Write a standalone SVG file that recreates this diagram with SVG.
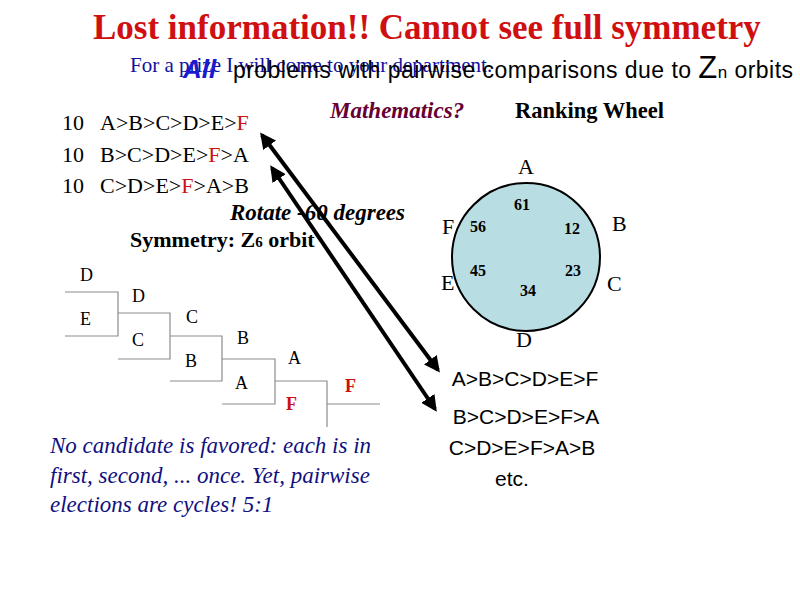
<svg xmlns="http://www.w3.org/2000/svg" width="800" height="600" viewBox="0 0 800 600">
<style>
.t{font-family:"Liberation Serif",serif;fill:#000}
.s{font-family:"Liberation Sans",sans-serif;fill:#000}
.br{stroke:#8c8c8c;stroke-width:1.2;fill:none}
.red{fill:#cc1111}
.ar{stroke:#000;stroke-width:4;fill:none}
</style>
<defs>
<marker id="ah" viewBox="0 0 10 10" refX="8" refY="5" markerWidth="4" markerHeight="4" orient="auto-start-reverse"><path d="M0,0 L10,5 L0,10 z" fill="#000"/></marker>
</defs>
<rect width="800" height="600" fill="#fff"/>
<text x="93" y="39" class="t" font-size="35" font-weight="bold" style="fill:#d01010">Lost information!! Cannot see full symmetry</text>
<text x="130" y="72" class="t" font-size="21" style="fill:#1010a0">For a prize I will come to your department.</text>
<text x="183" y="78" class="s" font-size="26" font-weight="bold" font-style="italic" style="fill:#1a1ad0">All</text>
<text x="233" y="78" class="s" font-size="23" textLength="560">problems with pairwise comparisons due to <tspan font-size="31">Z</tspan><tspan font-size="17">n</tspan> orbits</text>
<text x="330" y="118" class="t" font-size="23" font-weight="bold" font-style="italic" style="fill:#660033">Mathematics?</text>
<text x="515" y="118" class="t" font-size="22.5" font-weight="bold">Ranking Wheel</text>
<g class="t" font-size="22">
<text x="62" y="130">10</text><text x="100" y="130">A&gt;B&gt;C&gt;D&gt;E&gt;<tspan class="red">F</tspan></text>
<text x="62" y="162">10</text><text x="100" y="162">B&gt;C&gt;D&gt;E&gt;<tspan class="red">F</tspan>&gt;A</text>
<text x="62" y="193">10</text><text x="100" y="193">C&gt;D&gt;E&gt;<tspan class="red">F</tspan>&gt;A&gt;B</text>
</g>
<text x="230" y="220" class="t" font-size="23" font-weight="bold" font-style="italic">Rotate -60 degrees</text>
<text x="130" y="247" class="t" font-size="22" font-weight="bold">Symmetry: Z<tspan font-size="15">6</tspan> orbit</text>
<g id="wheel">
<circle cx="526" cy="257" r="74" fill="#b8dde2" stroke="#000" stroke-width="2"/>
<g class="t" font-size="22">
<text x="526" y="174" text-anchor="middle">A</text>
<text x="612" y="231">B</text>
<text x="607" y="291">C</text>
<text x="524" y="347" text-anchor="middle">D</text>
<text x="441" y="290">E</text>
<text x="442" y="234">F</text>
</g>
<g class="t" font-size="16" font-weight="bold">
<text x="514" y="210">61</text>
<text x="564" y="234">12</text>
<text x="565" y="276">23</text>
<text x="520" y="296">34</text>
<text x="470" y="276">45</text>
<text x="470" y="232">56</text>
</g>
</g>
<g id="bracket">
<path class="br" d="M65,292H118V336H65M118,313H170V359H118M170,336H222V381H170M222,359H275V404H222M275,381H327V427M327,404H380"/>
<g class="t" font-size="18">
<text x="80" y="281">D</text>
<text x="80" y="325">E</text>
<text x="132" y="302">D</text>
<text x="132" y="346">C</text>
<text x="186" y="323">C</text>
<text x="185" y="367">B</text>
<text x="237" y="344">B</text>
<text x="235" y="389">A</text>
<text x="288" y="364">A</text>
<text x="286" y="410" font-weight="bold" class="red">F</text>
<text x="345" y="392" font-weight="bold" class="red">F</text>
</g>
</g>
<g id="connectors">
<line class="ar" x1="262" y1="135" x2="438" y2="370" marker-start="url(#ah)" marker-end="url(#ah)"/>
<line class="ar" x1="272" y1="168" x2="435" y2="409" marker-start="url(#ah)" marker-end="url(#ah)"/>
</g>
<g class="s" font-size="21" text-anchor="middle">
<text x="525" y="386">A&gt;B&gt;C&gt;D&gt;E&gt;F</text>
<text x="526" y="424">B&gt;C&gt;D&gt;E&gt;F&gt;A</text>
<text x="522" y="455">C&gt;D&gt;E&gt;F&gt;A&gt;B</text>
<text x="512" y="486">etc.</text>
</g>
<g class="t" font-size="23" font-style="italic">
<text x="50" y="453" style="fill:#101080">No candidate is favored: each is in</text>
<text x="50" y="483" style="fill:#101080">first, second, ... once.  Yet, pairwise</text>
<text x="50" y="512" style="fill:#101080">elections are cycles!   5:1</text>
</g>
</svg>
